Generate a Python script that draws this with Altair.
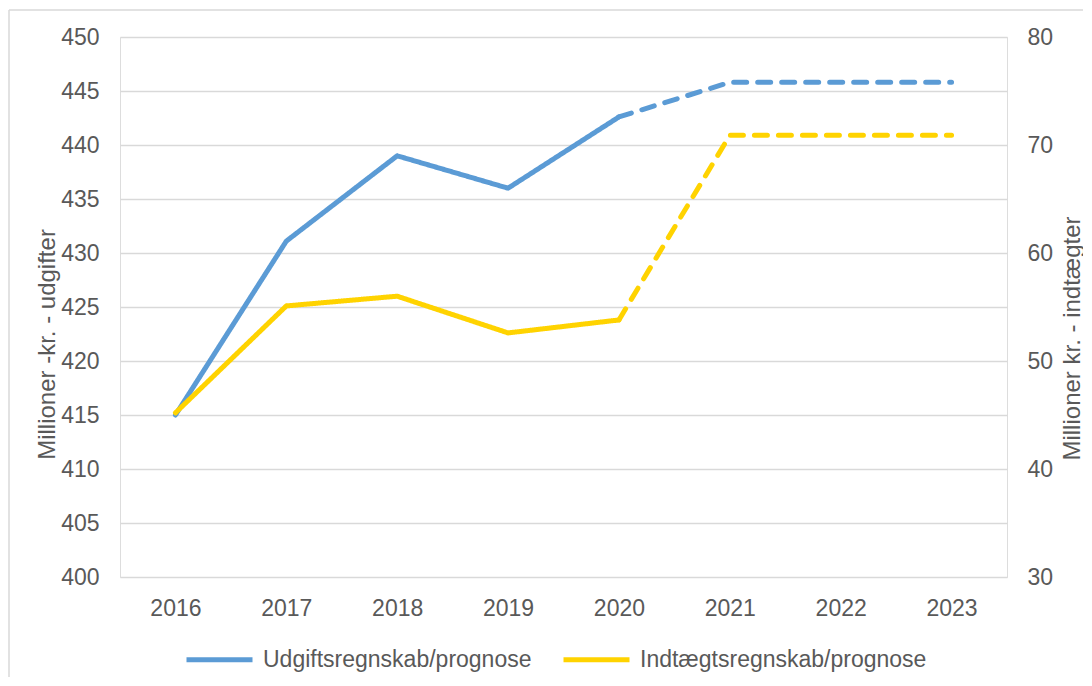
import altair as alt
import pandas as pd

years = [2016, 2017, 2018, 2019, 2020, 2021, 2022, 2023]
udgifter = [415.0, 431.1, 439.0, 436.0, 442.6, 445.8, 445.8, 445.8]
indtaegter = [45.2, 55.1, 56.0, 52.6, 53.8, 70.9, 70.9, 70.9]
last_actual = 2020
series_names = ["Udgiftsregnskab/prognose", "Indtægtsregnskab/prognose"]
colors = ["#5B9BD5", "#FFD300"]
left_ticks = [400, 405, 410, 415, 420, 425, 430, 435, 440, 445, 450]
right_ticks = [30, 40, 50, 60, 70, 80]


def build(values, name):
    rows = []
    for y, v in zip(years, values):
        if y <= last_actual:
            rows.append({"year": y, "value": v, "series": name, "seg": "Regnskab"})
        if y >= last_actual:
            rows.append({"year": y, "value": v, "series": name, "seg": "Prognose"})
    return pd.DataFrame(rows)


df_u = build(udgifter, series_names[0])
df_i = build(indtaegter, series_names[1])

FONT = "Liberation Sans"
GREY = "#595959"
LBL = 23
TTL = 24

x_enc = alt.X(
    "year:O",
    title=None,
    axis=alt.Axis(labelAngle=0, ticks=False, domain=False, labelPadding=20,
                  labelFontSize=LBL, labelColor=GREY, labelFont=FONT),
)
color_enc = alt.Color(
    "series:N",
    scale=alt.Scale(domain=series_names, range=colors),
    legend=alt.Legend(
        title=None, orient="none", direction="horizontal", legendX=64, legendY=587,
        symbolType="stroke", symbolSize=4356, symbolStrokeWidth=5,
        labelFontSize=LBL, labelColor=GREY, labelFont=FONT, columnPadding=21,
        labelOffset=8, labelLimit=500,
    ),
)
dash_enc = alt.StrokeDash(
    "seg:N",
    scale=alt.Scale(domain=["Regnskab", "Prognose"], range=[[1, 0], [13, 11]]),
    legend=None,
)

left = alt.Chart(df_u).mark_line(strokeWidth=5, strokeCap="round", strokeJoin="round").encode(
    x=x_enc,
    y=alt.Y(
        "value:Q",
        scale=alt.Scale(domain=[400, 450], nice=False, zero=False),
        axis=alt.Axis(orient="left", values=left_ticks, title="Millioner -kr. - udgifter",
                      ticks=False, domain=False, labelPadding=21, grid=True,
                      gridColor="#D9D9D9", gridWidth=1.5,
                      labelFontSize=LBL, labelColor=GREY, labelFont=FONT,
                      titleFontSize=TTL, titleFontWeight="normal", titleColor=GREY,
                      titleFont=FONT, titleAngle=270, titleBaseline="middle",
                      titleAlign="center", titleX=-73, titleY=307),
    ),
    color=color_enc,
    strokeDash=dash_enc,
)

right = alt.Chart(df_i).mark_line(strokeWidth=5, strokeCap="round", strokeJoin="round").encode(
    x=x_enc,
    y=alt.Y(
        "value:Q",
        scale=alt.Scale(domain=[30, 80], nice=False, zero=False),
        axis=alt.Axis(orient="right", values=right_ticks, title="Millioner kr. - indtægter",
                      ticks=False, domain=False, labelPadding=20, grid=False,
                      labelFontSize=LBL, labelColor=GREY, labelFont=FONT,
                      titleFontSize=TTL, titleFontWeight="normal", titleColor=GREY,
                      titleFont=FONT, titleAngle=270, titleBaseline="middle",
                      titleAlign="center", titleX=65, titleY=301),
    ),
    color=color_enc,
    strokeDash=dash_enc,
)

frame_df = pd.DataFrame({"a": [0]})
top_border = alt.Chart(frame_df).mark_rule(color="#D9D9D9", strokeWidth=1.5).encode(
    x=alt.value(-111), x2=alt.value(1100), y=alt.value(-27)
)
left_border = alt.Chart(frame_df).mark_rule(color="#D9D9D9", strokeWidth=1.5).encode(
    x=alt.value(-111), y=alt.value(-27), y2=alt.value(800)
)

chart = (
    alt.layer(left, right, top_border, left_border)
    .resolve_scale(y="independent")
    .properties(
        width=887, height=540,
        autosize=alt.AutoSizeParams(type="none"),
        padding={"left": 112, "top": 29, "right": 76, "bottom": 100},
    )
    .configure_view(stroke=None)
    .configure(background="white")
)

chart.save("out.html", embed_options={"renderer": "svg", "actions": False})
